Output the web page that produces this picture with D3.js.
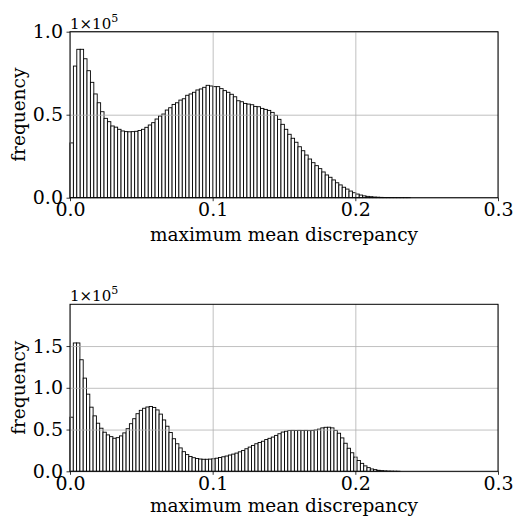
<!DOCTYPE html>
<html lang="en">
<head>
    <meta charset="utf-8">
    <script type="text/javascript" src="https://d3js.org/d3.v7.min.js"></script>
    <style>
        body { margin: 0; background: #fff; }
        text { font-family: "DejaVu Serif", serif; fill: #000; }
    </style>
</head>

<body>
    <script type="text/javascript">
        // histogram counts, 100 equal bins each
        let topCounts = [33000, 79300, 89400, 89400, 83700, 76500, 69500, 62500, 57200, 51800,
            47800, 45800, 43200, 42500, 41200, 40200, 39800, 39700, 39800, 40000,
            40500, 41200, 42400, 43800, 45200, 47400, 49200, 50400, 52800, 54200,
            56200, 57200, 58800, 59600, 61700, 62500, 63500, 64900, 65500, 66500,
            67700, 67300, 66900, 66900, 65700, 64500, 63500, 62300, 60800, 58400,
            57800, 56800, 56400, 56000, 55000, 54800, 53800, 53200, 52600, 51400,
            49600, 47200, 44200, 41200, 38200, 35800, 33400, 30700, 28300, 25700,
            23300, 21100, 19300, 17500, 15500, 13700, 12300, 10700, 9000, 7700,
            6300, 5200, 4000, 3000, 2200, 1600, 1100, 800, 600, 400,
            300, 200, 150, 100, 80, 60, 40, 30, 20, 10];
        let bottomCounts = [64800, 153700, 153700, 133600, 111600, 92400, 76800, 66400, 57600, 51600,
            46800, 43600, 41500, 39600, 40300, 42400, 46000, 51000, 57000, 63000,
            69000, 73000, 75500, 77000, 77600, 76500, 73500, 68500, 61500, 54000,
            46500, 39000, 33000, 28000, 23500, 20000, 17800, 16300, 15300, 14700,
            14400, 14400, 14600, 15000, 15700, 16500, 17400, 18300, 19500, 20600,
            21800, 23300, 25000, 27000, 29000, 31000, 33000, 34500, 36000, 38000,
            39500, 41000, 43000, 45000, 47000, 48000, 48800, 49000, 48800, 49000,
            48800, 49000, 48700, 49000, 49500, 50500, 52000, 52700, 52800, 52000,
            49000, 45600, 40000, 33600, 27600, 22200, 17000, 13000, 9500, 6500,
            4400, 2800, 2000, 1200, 800, 500, 300, 200, 100, 50];

        // histogram ranges (min, max of the data)
        let topRange = [0, 0.2385];
        let bottomRange = [0, 0.2313];

        let xTicks = [0, 0.1, 0.2, 0.3];
        let topYTicks = [0, 0.5, 1.0];
        let bottomYTicks = [0, 0.5, 1.0, 1.5];
        let xLabel = "maximum mean discrepancy";
        let yLabel = "frequency";

        let w = 515;
        let h = 517;

        let svg = d3.select("body").append("svg")
            .attr("width", w)
            .attr("height", h);

        function drawPanel(counts, range, yMax, yTicks, top, bottom, labelGap) {
            let left = 70, right = 498;
            let g = svg.append("g");

            let x = d3.scaleLinear().domain([0, 0.3]).range([left, right]);
            let y = d3.scaleLinear().domain([0, yMax]).range([bottom, top]);

            let n = counts.length;
            let bw = (range[1] - range[0]) / n;
            let bins = counts.map(function(c, i) {
                return { x0: range[0] + i * bw, x1: range[0] + (i + 1) * bw, v: c / 1e5 };
            });

            // bars
            g.selectAll("rect.bar")
                .data(bins)
                .join("rect")
                .attr("class", "bar")
                .attr("x", function(d) { return x(d.x0); })
                .attr("y", function(d) { return y(d.v); })
                .attr("width", function(d) { return x(d.x1) - x(d.x0); })
                .attr("height", function(d) { return bottom - y(d.v); })
                .attr("fill", "#fff")
                .attr("stroke", "#000")
                .attr("stroke-width", 0.9);

            // grid on top of the bars (matplotlib default)
            g.append("g")
                .attr("transform", "translate(0," + bottom + ")")
                .call(d3.axisBottom(x).tickValues(xTicks).tickSize(-(bottom - top)).tickFormat(""))
                .call(function(s) {
                    s.select(".domain").remove();
                    s.selectAll("line").attr("stroke", "#b0b0b0").attr("stroke-width", 0.8);
                });
            g.append("g")
                .attr("transform", "translate(" + left + ",0)")
                .call(d3.axisLeft(y).tickValues(yTicks).tickSize(-(right - left)).tickFormat(""))
                .call(function(s) {
                    s.select(".domain").remove();
                    s.selectAll("line").attr("stroke", "#b0b0b0").attr("stroke-width", 0.8);
                });

            // frame
            g.append("rect")
                .attr("x", left).attr("y", top)
                .attr("width", right - left).attr("height", bottom - top)
                .attr("fill", "none")
                .attr("stroke", "#000")
                .attr("stroke-width", 1);

            // axes
            let xa = g.append("g")
                .attr("transform", "translate(0," + bottom + ")")
                .call(d3.axisBottom(x).tickValues(xTicks).tickSize(3.5).tickPadding(1.5).tickFormat(d3.format(".1f")));
            let ya = g.append("g")
                .attr("transform", "translate(" + left + ",0)")
                .call(d3.axisLeft(y).tickValues(yTicks).tickSize(3.5).tickPadding(3.5).tickFormat(d3.format(".1f")));
            [xa, ya].forEach(function(a) {
                a.select(".domain").remove();
                a.selectAll("line").attr("stroke", "#000").attr("stroke-width", 0.8);
                a.selectAll("text")
                    .attr("font-family", "DejaVu Serif")
                    .attr("font-size", 19)
                    .attr("fill", "#000");
            });

            // labels
            g.append("text")
                .attr("x", (left + right) / 2)
                .attr("y", bottom + labelGap)
                .attr("text-anchor", "middle")
                .attr("font-size", 18.5)
                .text(xLabel);
            g.append("text")
                .attr("transform", "translate(25," + ((top + bottom) / 2) + ") rotate(-90)")
                .attr("text-anchor", "middle")
                .attr("font-size", 18.5)
                .text(yLabel);

            // offset text 1x10^5
            let off = g.append("text")
                .attr("x", left)
                .attr("y", top - 3)
                .attr("font-size", 15);
            off.append("tspan").text("1\u00d710");
            off.append("tspan").attr("dy", -7).attr("font-size", 11).text("5");
        }

        drawPanel(topCounts, topRange, 1.0, topYTicks, 31.7, 197.7, 43);
        drawPanel(bottomCounts, bottomRange, 2.0, bottomYTicks, 304.3, 471.3, 41);
    </script>
</body>
</html>
